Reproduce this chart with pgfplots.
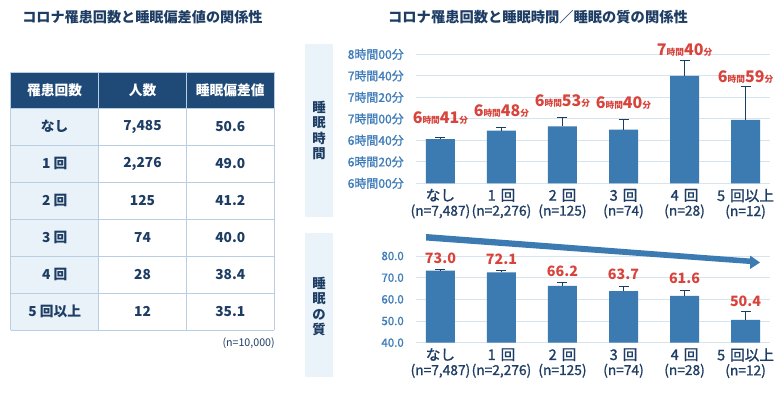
\documentclass[border=0pt]{standalone}
\usepackage{pgfplots}
\pgfplotsset{compat=1.18}
\usepackage{fontspec}
\setmainfont{Noto Sans CJK JP}
\newfontfamily\medfont{Noto Sans CJK JP}[FakeBold=1.2]
\definecolor{navy}{HTML}{1E3D64}
\definecolor{hdr}{HTML}{1F4A78}
\definecolor{cellbg}{HTML}{E9F2F9}
\definecolor{border}{HTML}{B8CEE2}
\definecolor{barblue}{HTML}{3C7AB2}
\definecolor{tickblue}{HTML}{3F7DBA}
\definecolor{lblred}{HTML}{D8433B}
\definecolor{stripbg}{HTML}{EAF3F9}
\definecolor{gridc}{HTML}{D6E4F0}
\newcommand\fs[2]{\fontsize{#1}{#2}\selectfont}
\newcommand\jk{{\fs{6.5}{8}時間}}
\newcommand\fn{{\fs{6.5}{8}分}}
\newcommand\cat[1]{{\fs{11}{11.25}#1}}
\pgfplotsset{
  chartbase/.style={
    anchor=south west, scale only axis, width=265.5pt,
    xmin=-0.4, xmax=5.4,
    axis line style={draw=none}, major tick length=0pt,
    xtick={0,...,5},
    xticklabels={{\cat{なし}\\(n=7,487)},{\cat{1\,\,回}\\(n=2,276)},{\cat{2\,\,回}\\(n=125)},{\cat{3\,\,回}\\(n=74)},{\cat{4\,\,回}\\(n=28)},{\cat{5\,\,回以上}\\(n=12)}},
    xticklabel style={align=center, font=\medfont\fs{10.3}{11.25}, text=navy, inner sep=0pt, anchor=north, yshift=-4pt},
    yticklabel style={text=tickblue, inner sep=0pt, anchor=east, xshift=-9pt},
    ymajorgrids, grid style={gridc, line width=0.75pt},
    clip=false,
  },
  barstyle/.style={ybar, bar width=21.75pt, fill=barblue, draw=none,
    error bars/.cd, y dir=plus, y explicit,
    error bar style={navy, line width=0.75pt},
    error mark options={rotate=90, navy, mark size=3.75pt, line width=0.75pt}},
  lblstyle/.style={draw=none, mark=none, nodes near coords, point meta=explicit symbolic,
    nodes near coords style={anchor=center, text=lblred, inner sep=0pt, font=\bfseries\fs{12}{12}}},
}
\begin{document}
\begin{tikzpicture}
\begin{scope}[x=0.75pt,y=-0.75pt]
\path[use as bounding box, fill=white] (0,0) rectangle (780,394);
% titles
\node[font=\bfseries\fs{10.6}{12}, text=navy, anchor=west, inner sep=0] at (22,17) {コロナ罹患回数と睡眠偏差値の関係性};
\node[font=\bfseries\fs{10.7}{12}, text=navy, inner sep=0] at (538,17) {コロナ罹患回数と睡眠時間／睡眠の質の関係性};
% table
\fill[hdr] (10.7,72) rectangle (274.3,108.3);
\fill[cellbg] (10.7,108.3) rectangle (98.7,330);
\foreach \yy in {108.3,145,182.3,219.3,256.3,293.3,330}
  \draw[border, line width=0.75pt] (10.7,\yy) -- (274.3,\yy);
\foreach \xx in {10.7,98.7,186.3,274.3}
  \draw[border, line width=0.75pt] (\xx,72) -- (\xx,330);
\draw[border, line width=0.75pt] (10.7,72) -- (274.3,72);
\begin{scope}[every node/.style={font=\bfseries\fs{10.3}{12}, inner sep=0}]
\node[text=white] at (54.7,90.2) {罹患回数};
\node[text=white] at (142.5,90.2) {人数};
\node[text=white] at (230.3,90.2) {睡眠偏差値};
\node[text=navy] at (54.7,126.7) {なし};
\node[text=navy] at (142.5,126.7) {7,485};
\node[text=navy] at (230.3,126.7) {50.6};
\node[text=navy] at (54.7,163.7) {1 回};
\node[text=navy] at (142.5,163.7) {2,276};
\node[text=navy] at (230.3,163.7) {49.0};
\node[text=navy] at (54.7,200.8) {2 回};
\node[text=navy] at (142.5,200.8) {125};
\node[text=navy] at (230.3,200.8) {41.2};
\node[text=navy] at (54.7,237.8) {3 回};
\node[text=navy] at (142.5,237.8) {74};
\node[text=navy] at (230.3,237.8) {40.0};
\node[text=navy] at (54.7,274.8) {4 回};
\node[text=navy] at (142.5,274.8) {28};
\node[text=navy] at (230.3,274.8) {38.4};
\node[text=navy] at (54.7,311.7) {5 回以上};
\node[text=navy] at (142.5,311.7) {12};
\node[text=navy] at (230.3,311.7) {35.1};
\end{scope}
\node[font=\fs{8}{9}, text=navy, anchor=east, inner sep=0] at (275,342.7) {(n=10,000)};
% side strips
\fill[stripbg] (305,44) rectangle (333,217);
\fill[stripbg] (305,233.3) rectangle (333,377);
\node[font=\bfseries\fs{10}{11.6}, text=navy, align=center, inner sep=0] at (319,130.5) {睡\\眠\\時\\間};
\node[font=\bfseries\fs{10}{11.6}, text=navy, align=center, inner sep=0] at (319,306.5) {睡\\眠\\の\\質};
\end{scope}

% top chart: sleep time (minutes)
\begin{axis}[chartbase, at={(312pt,-137.475pt)}, height=96.75pt,
  ymin=360, ymax=480, ytick={360,380,...,480},
  yticklabels={6時間00分,6時間20分,6時間40分,7時間00分,7時間20分,7時間40分,8時間00分},
  yticklabel style={font=\medfont\fs{9}{10}},
]
\addplot[barstyle] coordinates {
  (0,401) +- (0,1.6)
  (1,409) +- (0,2.5)
  (2,413) +- (0,7.8)
  (3,410) +- (0,9.3)
  (4,460) +- (0,14)
  (5,419) +- (0,30.7)
};
\addplot[lblstyle] coordinates {
  (0,420.5) [6\jk41\fn]
  (1,427.5) [6\jk48\fn]
  (2,436.6) [6\jk53\fn]
  (3,435) [6\jk40\fn]
  (4,484) [7\jk40\fn]
  (5,459.2) [6\jk59\fn]
};
\end{axis}

% bottom chart: sleep quality
\begin{axis}[chartbase, at={(312pt,-257.0pt)}, height=65.0pt,
  ymin=40, ymax=80, ytick={40,50,...,80},
  yticklabel style={font=\medfont\fs{8.6}{10}, /pgf/number format/fixed, /pgf/number format/fixed zerofill, /pgf/number format/precision=1, /pgf/number format/assume math mode=true},
]
\addplot[barstyle] coordinates {
  (0,73.3) +- (0,0.5)
  (1,72.4) +- (0,0.8)
  (2,66.2) +- (0,1.6)
  (3,63.8) +- (0,2.3)
  (4,61.6) +- (0,2.6)
  (5,50.5) +- (0,4.0)
};
\addplot[lblstyle, nodes near coords style={font=\bfseries\fs{10.7}{12}}] coordinates {
  (0,79.1) [73.0]
  (1,78.4) [72.1]
  (2,72.8) [66.2]
  (3,71.6) [63.7]
  (4,69.5) [61.6]
  (5,58.9) [50.4]
};
\end{axis}

\begin{scope}[x=0.75pt,y=-0.75pt]
\fill[barblue] (426,234) -- (750,258.5) -- (750,255.5) -- (760,262.5) -- (750,269) -- (750,264) -- (426,240.5) -- cycle;
\end{scope}
\end{tikzpicture}
\end{document}
